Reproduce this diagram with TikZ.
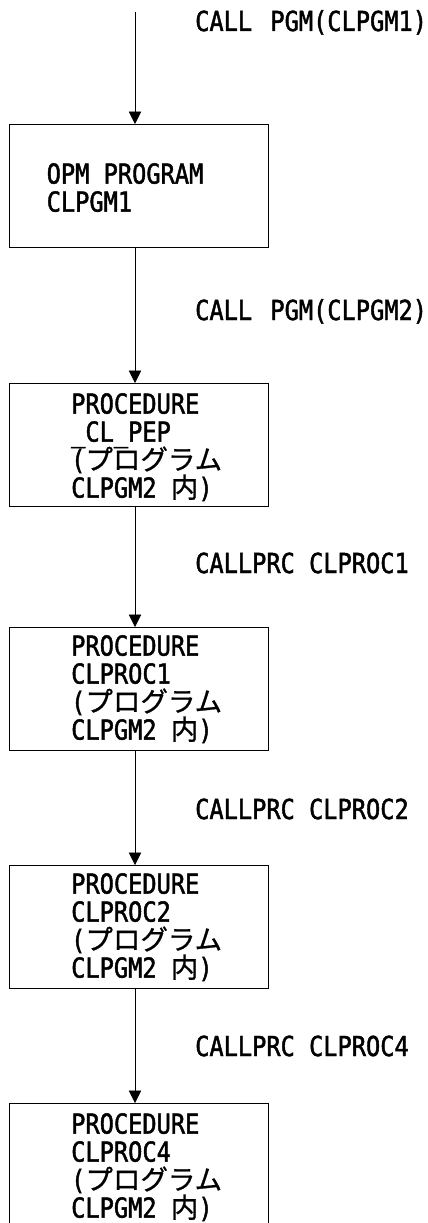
\documentclass[tikz,border=0pt]{standalone}
\usepackage{fontspec}
\usetikzlibrary{arrows.meta}
\newfontfamily\lat{DejaVu Sans Mono}[FakeStretch=0.86,FakeBold=1.6]
\newfontfamily\jpf{Noto Sans CJK JP}[FakeBold=0.8]
\newcommand\J[1]{{\jpf\fontsize{27.5}{28}\selectfont #1}}
\newcommand\tfont{\lat\fontsize{27.5}{28}\selectfont\lineskip=0pt\lineskiplimit=-100pt}
\begin{document}
\begin{tikzpicture}[x=1pt,y=-1pt,
  box/.style={draw,line width=1pt,minimum width=258.5pt,minimum height=123pt,anchor=north west,outer sep=0pt,inner sep=0pt},
  txt/.style={anchor=north west,inner sep=0pt,align=left,font=\tfont},
  lbl/.style={anchor=base west,inner sep=0pt,font=\tfont},
  arr/.style={line width=0.9pt,-{Triangle[width=12.5pt,length=12.5pt]}}]
\useasboundingbox (0,0) rectangle (428,1223);
\clip (0,0) rectangle (428,1223);
\coordinate (top) at (135,12);
\node[box] (b1) at (9.5,124) {};
\node[box] (b2) at (9.5,383) {};
\node[box] (b3) at (9.5,627) {};
\node[box] (b4) at (9.5,865) {};
\node[box] (b5) at (9.5,1103) {};
\node[txt] (t1) at (46.5,163) {OPM PROGRAM\\CLPGM1};
\node[txt] (t2) at (71,393) {PROCEDURE\\\_CL\_PEP\\(\J{プログラム}\\CLPGM2 \J{内})};
\node[txt] (t3) at (71,635) {PROCEDURE\\CLPROC1\\(\J{プログラム}\\CLPGM2 \J{内})};
\node[txt] (t4) at (71,873) {PROCEDURE\\CLPROC2\\(\J{プログラム}\\CLPGM2 \J{内})};
\node[txt] (t5) at (71,1113) {PROCEDURE\\CLPROC4\\(\J{プログラム}\\CLPGM2 \J{内})};
\draw[arr] (top) -- (b1.north -| top);
\draw[arr] (b1.south -| top) -- (b2.north -| top);
\draw[arr] (b2.south -| top) -- (b3.north -| top);
\draw[arr] (b3.south -| top) -- (b4.north -| top);
\draw[arr] (b4.south -| top) -- (b5.north -| top);
\node[lbl] (l1) at (195,31) {CALL\hspace{4pt} PGM(CLPGM1)};
\node[lbl] (l2) at (195,320) {CALL\hspace{4pt} PGM(CLPGM2)};
\node[lbl] (l3) at (195,573) {CALLPRC CLPROC1};
\node[lbl] (l4) at (195,819) {CALLPRC CLPROC2};
\node[lbl] (l5) at (195,1056) {CALLPRC CLPROC4};
\end{tikzpicture}
\end{document}
